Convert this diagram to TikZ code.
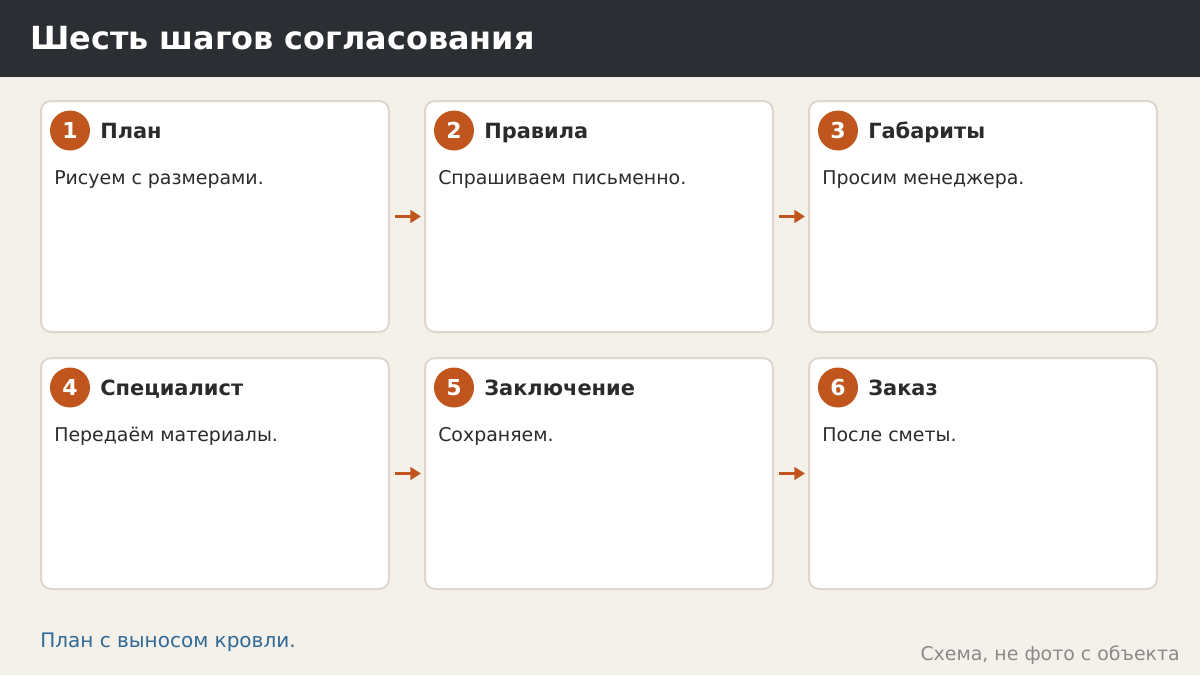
\documentclass[tikz,border=0pt]{standalone}
\usepackage{fontspec}
\setmainfont{DejaVu Sans}
\usetikzlibrary{arrows.meta}
\definecolor{hdr}{HTML}{2B2E33}
\definecolor{bg}{HTML}{F4F1EA}
\definecolor{cardline}{HTML}{DDD7CD}
\definecolor{accent}{HTML}{C0561E}
\definecolor{bluetxt}{HTML}{2F6A96}
\definecolor{graytxt}{HTML}{8A8A8A}
\definecolor{ink}{HTML}{2B2B2B}
\tikzset{
  card/.style={draw=cardline, line width=1.5pt, fill=white, rounded corners=7.5pt,
    minimum width=261pt, minimum height=173.25pt, inner sep=0pt},
  badge/.style={circle, fill=accent, minimum size=30pt, inner sep=0pt,
    text=white, font=\bfseries\fontsize{16.5}{19}\selectfont},
  ctitle/.style={anchor=base west, inner sep=0pt, text=ink, font=\bfseries\fontsize{15.7}{18}\selectfont},
  cbody/.style={anchor=base west, inner sep=0pt, text=ink, font=\fontsize{14.2}{17}\selectfont},
  arr/.style={draw=accent, line width=2.4pt, -{Triangle[length=8pt,width=9.5pt]}},
}
\begin{document}
\begin{tikzpicture}[x=0.75pt,y=-0.75pt]
\useasboundingbox (0,0) rectangle (1200,675);
\fill[bg] (0,0) rectangle (1200,675);
\fill[hdr] (0,0) rectangle (1200,77);
\node[anchor=base west, inner sep=0pt, text=white, font=\bfseries\fontsize{23.9}{28}\selectfont] (title) at (30,49) {Шесть шагов согласования};

% cards
\node[card] (c1) at (215,216.5) {};
\node[card] (c2) at (599,216.5) {};
\node[card] (c3) at (983,216.5) {};
\node[card] (c4) at (215,473.5) {};
\node[card] (c5) at (599,473.5) {};
\node[card] (c6) at (983,473.5) {};

% badges
\node[badge] (b1) at (70,130.5) {1};
\node[badge] (b2) at (454,130.5) {2};
\node[badge] (b3) at (838,130.5) {3};
\node[badge] (b4) at (70,387.5) {4};
\node[badge] (b5) at (454,387.5) {5};
\node[badge] (b6) at (838,387.5) {6};

% titles
\node[ctitle] (t1) at (100,138) {План};
\node[ctitle] (t2) at (484,138) {Правила};
\node[ctitle] (t3) at (868,138) {Габариты};
\node[ctitle] (t4) at (100,395) {Специалист};
\node[ctitle] (t5) at (484,395) {Заключение};
\node[ctitle] (t6) at (868,395) {Заказ};

% bodies
\node[cbody] (d1) at (54,184) {Рисуем с размерами.};
\node[cbody] (d2) at (438,184) {Спрашиваем письменно.};
\node[cbody] (d3) at (822,184) {Просим менеджера.};
\node[cbody] (d4) at (54,441) {Передаём материалы.};
\node[cbody] (d5) at (438,441) {Сохраняем.};
\node[cbody] (d6) at (822,441) {После сметы.};

% arrows
\draw[arr] ([xshift=3.75pt]c1.east) -- ([xshift=-2.25pt]c2.west);
\draw[arr] ([xshift=3.75pt]c2.east) -- ([xshift=-2.25pt]c3.west);
\draw[arr] ([xshift=3.75pt]c4.east) -- ([xshift=-2.25pt]c5.west);
\draw[arr] ([xshift=3.75pt]c5.east) -- ([xshift=-2.25pt]c6.west);

% footer
\node[anchor=base west, inner sep=0pt, text=bluetxt, font=\fontsize{15}{18}\selectfont] (note) at (40,647) {План с выносом кровли.};
\node[anchor=base east, inner sep=0pt, text=graytxt, font=\fontsize{14.2}{17}\selectfont] (credit) at (1180,660) {Схема, не фото с объекта};
\end{tikzpicture}
\end{document}
